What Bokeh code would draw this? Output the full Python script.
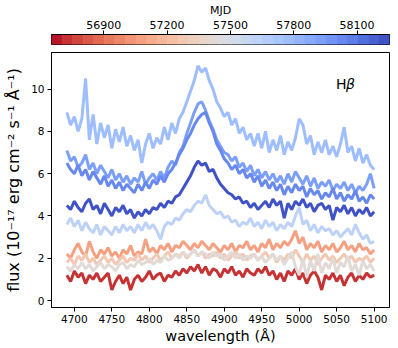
import numpy as np
from bokeh.plotting import figure
from bokeh.layouts import column
from bokeh.models import ColumnDataSource, Label, FixedTicker, Range1d, Title
from bokeh.transform import linear_cmap
from bokeh.embed import file_html
from bokeh.resources import INLINE

# ---------------- data ----------------
wavelength = list(range(4690, 5101, 5))

# MJD of each spectrum (drawing order: oldest first)
mjd = [56720, 57090, 57300, 57440, 57620, 57760, 57930, 58050, 58220]

flux_56720 = [1.2, 0.9, 1.4, 1.1, 1.3, 0.8, 1.2, 1.0, 1.3, 0.9,
              1.1, 1.3, 0.5, 0.9, 1.2, 0.8, 1.1, 0.5, 1.0, 1.2,
              0.9, 1.1, 1.4, 1.0, 1.2, 1.3, 0.9, 1.2, 1.1, 1.4,
              1.2, 1.5, 1.3, 1.6, 1.4, 1.7, 1.3, 1.6, 1.2, 1.5,
              1.4, 1.1, 1.5, 1.3, 1.6, 1.2, 1.4, 1.1, 1.5, 1.3,
              1.2, 1.5, 1.3, 1.6, 1.2, 1.4, 1.0, 1.3, 0.9, 1.4,
              1.2, 1.5, 1.0, 1.3, 0.8, 1.2, 1.4, 1.1, 0.5, 1.2,
              1.0, 1.3, 0.9, 1.2, 0.7, 1.1, 1.3, 0.9, 1.2, 1.0,
              1.3, 1.1, 1.2]
flux_57090 = [2.2, 2.0, 2.4, 2.7, 2.3, 2.1, 2.8, 2.3, 2.0, 2.4,
              2.2, 2.5, 2.1, 2.3, 2.0, 2.4, 2.2, 2.6, 2.1, 2.3,
              2.2, 2.9, 2.3, 2.5, 2.2, 2.6, 2.4, 2.7, 2.3, 2.6,
              2.5, 2.8, 2.6, 2.4, 2.7, 2.5, 2.8, 2.6, 2.4, 2.7,
              2.5, 2.3, 2.6, 2.4, 2.7, 2.3, 2.6, 2.5, 2.8, 2.4,
              2.6, 2.3, 2.7, 2.5, 2.9, 2.4, 2.7, 2.5, 2.8, 2.6,
              2.9, 3.3, 2.7, 3.0, 2.4, 2.7, 2.5, 2.8, 2.3, 2.6,
              2.4, 2.7, 2.3, 2.5, 2.8, 2.4, 2.6, 2.3, 2.7, 2.4,
              2.5, 2.2, 2.4]
flux_57300 = [1.8, 2.0, 1.7, 2.1, 1.9, 2.2, 1.8, 2.0, 1.7, 1.9,
              2.1, 1.8, 2.0, 1.7, 1.9, 2.1, 1.8, 2.0, 1.9, 2.2,
              1.9, 2.1, 1.8, 2.0, 2.2, 1.9, 2.1, 2.3, 2.0, 2.2,
              2.1, 2.3, 2.0, 2.2, 2.4, 2.1, 2.3, 2.0, 2.2, 2.1,
              2.3, 2.0, 2.2, 1.9, 2.1, 2.3, 2.0, 2.2, 1.9, 2.1,
              2.2, 1.9, 2.1, 2.3, 2.0, 2.2, 1.8, 2.1, 1.9, 2.2,
              2.0, 2.4, 2.1, 1.8, 2.2, 1.9, 2.1, 1.7, 2.0, 2.2,
              1.9, 2.1, 1.8, 2.0, 2.2, 1.9, 2.1, 1.8, 2.0, 1.9,
              2.1, 1.8, 2.0]
flux_57440 = [1.6, 1.4, 1.7, 1.5, 1.8, 1.5, 1.7, 1.4, 1.6, 1.8,
              1.5, 1.7, 1.6, 1.4, 1.7, 1.8, 1.5, 1.7, 1.6, 1.9,
              1.7, 1.8, 2.0, 1.7, 1.9, 1.8, 2.1, 1.9, 2.0, 2.2,
              2.0, 2.3, 2.1, 2.2, 2.4, 2.1, 2.3, 2.2, 2.0, 2.3,
              2.1, 2.2, 1.9, 2.1, 2.3, 2.0, 2.2, 1.9, 2.1, 2.0,
              2.2, 1.9, 2.1, 1.8, 2.0, 2.2, 1.9, 2.1, 1.7, 2.0,
              2.3, 1.6, 1.2, 2.0, 1.1, 1.9, 1.4, 2.2, 1.3, 1.8,
              1.5, 2.0, 1.3, 1.8, 1.6, 2.1, 1.4, 1.7, 1.2, 1.9,
              1.5, 1.7, 1.4]
flux_57620 = [3.6, 3.9, 3.5, 3.8, 3.3, 3.7, 3.4, 3.2, 3.6, 3.1,
              3.5, 3.3, 3.1, 3.5, 3.2, 3.6, 3.3, 3.5, 3.2, 3.6,
              3.3, 3.7, 3.4, 3.6, 3.3, 2.9, 3.5, 3.7, 3.6, 3.9,
              3.8, 4.1, 4.3, 4.2, 4.5, 4.7, 4.6, 5.0, 4.5, 4.3,
              4.1, 4.2, 3.9, 4.0, 3.7, 3.8, 3.5, 3.7, 3.6, 3.9,
              3.5, 3.7, 3.4, 3.8, 3.5, 3.7, 3.3, 3.6, 3.4, 3.7,
              3.5, 4.0, 4.4, 3.6, 3.8, 3.3, 3.6, 3.2, 3.5, 3.3,
              3.4, 3.1, 3.3, 3.0, 3.2, 3.4, 3.1, 3.6, 3.2, 2.9,
              3.1, 2.7, 2.8]
flux_57760 = [8.9, 8.3, 8.7, 8.0, 8.6, 10.5, 7.6, 8.8, 7.4, 8.4,
              7.7, 8.3, 7.2, 8.1, 7.5, 8.2, 7.3, 7.8, 7.1, 7.6,
              6.5, 7.4, 7.9, 7.2, 7.7, 7.4, 8.2, 7.6, 8.4, 7.9,
              8.6, 8.9, 9.4, 9.9, 10.4, 11.1, 10.8, 11.0, 10.4, 10.0,
              9.4, 9.1, 8.7, 8.9, 8.3, 8.6, 7.9, 8.2, 7.6, 7.9,
              7.3, 7.9, 7.2, 8.0, 7.0, 7.6, 7.1, 7.8, 6.9, 7.5,
              7.1, 7.7, 8.6, 8.3, 7.4, 7.8, 6.9, 7.5, 7.0, 7.6,
              6.9, 7.3, 6.8, 7.4, 8.2, 7.0, 7.3, 6.6, 7.2, 6.5,
              6.9, 6.4, 6.2]
flux_57930 = [7.1, 6.6, 6.8, 6.3, 6.5, 6.9, 6.2, 6.5, 6.0, 6.4,
              6.1, 5.8, 6.2, 5.7, 6.0, 5.6, 5.9, 5.5, 5.8, 5.6,
              6.1, 5.5, 5.8, 6.0, 5.7, 6.1, 5.8, 6.3, 6.6, 6.4,
              7.0, 7.3, 7.9, 8.4, 8.9, 9.3, 9.4, 9.0, 8.5, 8.1,
              7.6, 7.3, 7.0, 6.9, 6.6, 6.8, 6.3, 6.5, 6.1, 6.4,
              5.9, 6.2, 5.8, 6.1, 5.7, 6.0, 5.6, 5.9, 5.5, 6.0,
              5.6, 6.1, 5.8, 5.5, 5.9, 5.4, 5.8, 5.3, 5.6, 5.4,
              5.7, 5.2, 5.5, 5.3, 5.6, 5.2, 5.5, 5.1, 5.4, 5.2,
              5.5, 6.0, 5.3]
flux_58050 = [6.5, 6.2, 6.0, 6.4, 5.9, 6.2, 5.7, 6.1, 5.8, 5.5,
              5.9, 5.4, 5.7, 5.3, 5.6, 5.2, 5.5, 5.3, 5.1, 5.5,
              5.2, 5.6, 5.3, 5.7, 5.5, 5.9, 5.6, 6.0, 6.2, 6.5,
              6.9, 7.2, 7.6, 7.9, 8.3, 8.6, 8.8, 8.9, 8.4, 8.0,
              7.4, 7.1, 6.7, 6.5, 6.2, 6.4, 6.0, 6.2, 5.8, 6.0,
              5.6, 5.9, 5.4, 5.7, 5.3, 5.6, 5.2, 5.5, 5.0, 5.4,
              5.1, 5.5, 5.2, 5.4, 4.9, 5.3, 5.0, 5.2, 4.8, 5.1,
              4.9, 5.3, 4.8, 5.1, 4.7, 5.0, 4.8, 5.2, 4.7, 4.9,
              4.6, 5.0, 4.8]
flux_58220 = [4.5, 4.3, 4.7, 4.4, 4.2, 4.6, 4.8, 4.3, 4.5, 4.1,
              4.6, 4.3, 4.0, 4.4, 4.2, 4.5, 4.1, 4.3, 3.9, 4.2,
              4.0, 4.3, 4.1, 4.4, 4.3, 4.6, 4.4, 4.7, 4.6, 4.9,
              5.0, 5.3, 5.6, 5.9, 6.3, 6.6, 6.4, 6.5, 6.1, 6.2,
              5.8, 5.5, 5.3, 5.1, 5.0, 4.8, 4.9, 4.6, 4.7, 4.4,
              4.6, 4.3, 4.5, 4.7, 4.4, 4.8, 4.5, 4.7, 3.9, 4.6,
              4.3, 4.7, 4.5, 4.8, 4.4, 4.6, 4.2, 4.5, 4.6, 4.3,
              4.5, 3.8, 4.4, 4.2, 4.5, 4.1, 4.4, 4.0, 4.3, 4.1,
              4.4, 4.0, 4.2]

spectra = [flux_56720, flux_57090, flux_57300, flux_57440, flux_57620,
           flux_57760, flux_57930, flux_58050, flux_58220]

mjd_low, mjd_high = 56652, 58254
mjd_ticks = [56900, 57200, 57500, 57800, 58100]
wl_ticks = [4700, 4750, 4800, 4850, 4900, 4950, 5000, 5050, 5100]
flux_ticks = [0, 2, 4, 6, 8, 10]
line_label = "Hβ"

# ---------------- colour map (coolwarm, reversed: red = early) ----------------
CW = [(59, 76, 192), (68, 90, 204), (77, 104, 215), (87, 117, 225), (98, 130, 234),
      (108, 142, 241), (119, 154, 247), (130, 165, 251), (141, 176, 254), (152, 185, 255),
      (163, 194, 255), (174, 201, 253), (184, 208, 249), (194, 213, 244), (204, 217, 238),
      (213, 219, 230), (221, 221, 221), (229, 216, 209), (236, 211, 197), (241, 204, 184),
      (245, 196, 172), (247, 187, 160), (247, 177, 148), (247, 166, 136), (244, 154, 123),
      (241, 141, 111), (236, 127, 99), (229, 112, 88), (222, 96, 77), (213, 80, 66),
      (203, 62, 56), (192, 40, 47), (180, 4, 38)]


def coolwarm(t):
    pos = min(max(t, 0.0), 1.0) * 32
    i = min(int(pos), 31)
    f = pos - i
    c = [CW[i][k] + (CW[i + 1][k] - CW[i][k]) * f for k in range(3)]
    return "#%02x%02x%02x" % tuple(int(round(v)) for v in c)


NBINS = 32
palette = [coolwarm(1 - (k + 0.5) / NBINS) for k in range(NBINS)]
cmap = linear_cmap("mjd", palette, mjd_low, mjd_high)

FONT = "DejaVu Sans"
W = 398

# ---------------- colour bar figure ----------------
cb = figure(width=W, height=45, x_range=Range1d(mjd_low, mjd_high), y_range=Range1d(0, 1),
            x_axis_location="above", toolbar_location=None, output_backend="svg",
            min_border_left=51, min_border_right=9, min_border_top=0, min_border_bottom=1)
edges = np.linspace(mjd_low, mjd_high, NBINS + 1)
cb_src = ColumnDataSource(dict(left=edges[:-1], right=edges[1:],
                               mjd=(edges[:-1] + edges[1:]) / 2))
cb.quad(left="left", right="right", bottom=0, top=1, source=cb_src,
        fill_color=cmap, line_color=cmap, line_width=0.6)
cb.yaxis.visible = False
cb.grid.visible = False
cb.outline_line_color = "black"
cb.outline_line_width = 1
ax = cb.xaxis[0]
ax.ticker = FixedTicker(ticks=mjd_ticks)
ax.axis_label = "MJD"
ax.axis_label_text_font = FONT
ax.axis_label_text_font_style = "normal"
ax.axis_label_text_font_size = "11px"
ax.axis_label_text_color = "black"
ax.axis_label_standoff = 1
ax.major_label_text_font = FONT
ax.major_label_text_font_size = "11px"
ax.major_label_text_color = "black"
ax.major_label_standoff = 2
ax.major_tick_in = 0
ax.major_tick_out = 4
ax.minor_tick_out = 0
ax.minor_tick_in = 0
ax.axis_line_color = "black"
ax.major_tick_line_color = "black"

# ---------------- main figure ----------------
p = figure(width=W, height=301, x_range=Range1d(4669.5, 5120.5), y_range=Range1d(-0.33, 11.73),
           toolbar_location=None, output_backend="svg",
           min_border_left=47, min_border_right=5, min_border_top=7, min_border_bottom=39)
src = ColumnDataSource(dict(xs=[wavelength] * len(spectra), ys=spectra, mjd=mjd))
p.multi_line(xs="xs", ys="ys", source=src, line_color=cmap, line_width=3)

p.grid.visible = False
p.outline_line_color = "black"
p.outline_line_width = 1
p.xaxis.ticker = FixedTicker(ticks=wl_ticks)
p.yaxis.ticker = FixedTicker(ticks=flux_ticks)
p.yaxis.axis_label = "flux (10⁻¹⁷ erg cm⁻² s⁻¹ Å⁻¹)"
for a in (p.xaxis[0], p.yaxis[0]):
    a.axis_label_text_font = FONT
    a.axis_label_text_font_style = "normal"
    a.axis_label_text_font_size = "16px"
    a.axis_label_text_color = "black"
    a.axis_label_standoff = 5
    a.major_label_text_font = FONT
    a.major_label_text_font_size = "10.5px"
    a.major_label_text_color = "black"
    a.major_label_standoff = 3
    a.major_tick_in = 0
    a.major_tick_out = 4
    a.minor_tick_in = 0
    a.minor_tick_out = 0
    a.axis_line_color = "black"
    a.major_tick_line_color = "black"

# x-axis title as a compact title panel under the axis
p.add_layout(Title(text="wavelength (Å)", align="center", text_font=FONT,
                   text_font_size="14.5px", text_font_style="normal", text_color="black",
                   standoff=0, offset=0), "below")

p.add_layout(Label(x=5049, y=10.25, text=line_label[0], text_font=FONT, text_font_size="14px",
                   text_baseline="middle", text_align="left", text_color="black"))
p.add_layout(Label(x=5062.5, y=10.25, text=line_label[1], text_font=FONT, text_font_size="14px",
                   text_font_style="italic", text_baseline="middle", text_align="left",
                   text_color="black"))

layout = column(cb, p, spacing=0)
open("out.html", "w").write(file_html(layout, INLINE))
